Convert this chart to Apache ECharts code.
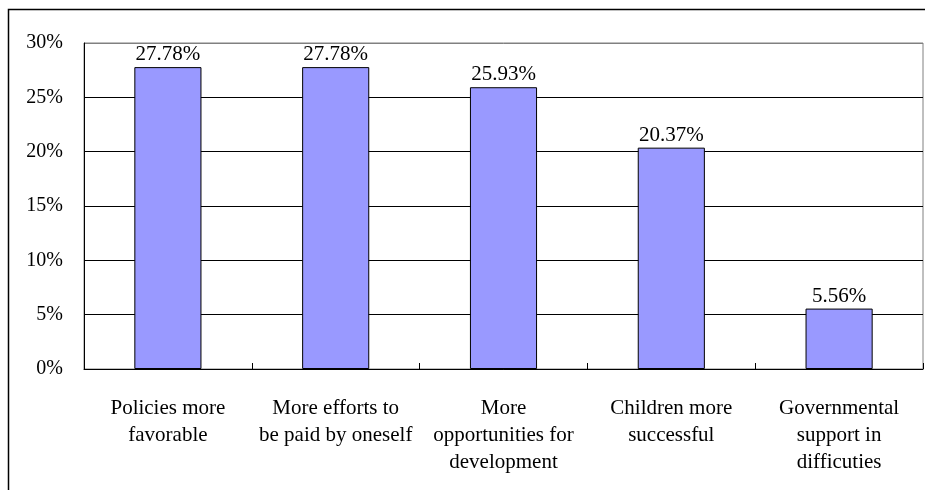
<!DOCTYPE html>
<html><head><meta charset="utf-8">
<script src="https://cdn.jsdelivr.net/npm/echarts@6/dist/echarts.min.js"></script>
<style>html,body{margin:0;padding:0;background:#fff}#c{width:925px;height:490px}</style>
</head><body><div id="c"></div>
<script>
const categories = ['Policies more\nfavorable', 'More efforts to\nbe paid by oneself', 'More\nopportunities for\ndevelopment', 'Children more\nsuccessful', 'Governmental\nsupport in\ndifficuties'];
const values = [27.78, 27.78, 25.93, 20.37, 5.56];
const yTicks = [0, 5, 10, 15, 20, 25, 30];
const font = 'Liberation Serif';
const chart = echarts.init(document.getElementById('c'));
chart.setOption({
  animation: false,
  backgroundColor: '#fff',
  grid: {left: 84, top: 43, width: 839, height: 326, show: true, borderColor: '#808080', borderWidth: 1, backgroundColor: 'transparent'},
  xAxis: {
    type: 'category', data: categories,
    axisLine: {lineStyle: {color: '#000', width: 1}},
    axisTick: {show: true, inside: true, length: 6, lineStyle: {color: '#000'}},
    axisLabel: {fontFamily: font, fontSize: 21, color: '#000', lineHeight: 27, margin: 26, interval: 0}
  },
  yAxis: {
    type: 'value', min: yTicks[0], max: yTicks[yTicks.length - 1], interval: 5,
    axisLine: {show: true, lineStyle: {color: '#000', width: 1}},
    axisTick: {show: false},
    splitLine: {lineStyle: {color: ['#000', '#000', '#000', '#000', '#000', '#000', '#808080'], width: 1}},
    axisLabel: {fontFamily: font, fontSize: 20, color: '#000', margin: 21, formatter: v => v + '%'}
  },
  series: [{
    type: 'bar', data: values, barWidth: '40%',
    itemStyle: {color: '#9999FF', borderColor: '#000', borderWidth: 1},
    label: {show: true, position: 'top', distance: 2, fontFamily: font, fontSize: 21, color: '#000', formatter: p => p.value.toFixed(2) + '%'}
  }],
  graphic: [{
    type: 'polyline', silent: true,
    shape: {points: [[8.5, 490], [8.5, 9.5], [925, 9.5]]},
    style: {stroke: '#000', lineWidth: 1.5, fill: null}
  }]
});
</script></body></html>
